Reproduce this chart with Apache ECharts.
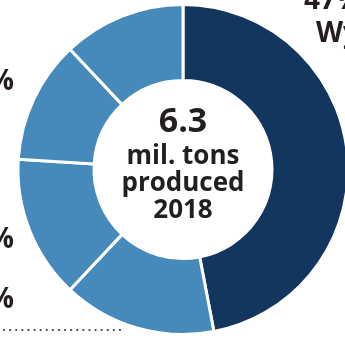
<!DOCTYPE html>
<html>
<head>
<meta charset="utf-8">
<script src="https://cdn.jsdelivr.net/npm/echarts@6/dist/echarts.min.js"></script>
<style>
  html, body { margin: 0; padding: 0; background: #fff; }
  #chart { width: 345px; height: 338px; }
</style>
</head>
<body>
<div id="chart"></div>
<script>
// Share of coal production, 2018 (percent), clockwise from 12 o'clock
const shares = [47, 15, 14, 12, 12];
const sliceColors = ['#13365f', '#4689bb', '#4689bb', '#4689bb', '#4689bb'];
const leadName = 'Wyoming';
const totalProduced = '6.3';
const centerLines = ['mil. tons', 'produced', '2018'];

const chart = echarts.init(document.getElementById('chart'), null, { renderer: 'canvas' });

const cx = 183, cy = 169.5;
const ink = '#231f20';
const font = '"Open Sans", "Liberation Sans", sans-serif';

chart.setOption({
  animation: false,
  series: [{
    type: 'pie',
    center: [cx, cy],
    radius: [89, 165],
    startAngle: 90,
    clockwise: true,
    silent: true,
    label: { show: false },
    labelLine: { show: false },
    itemStyle: { borderColor: '#ffffff', borderWidth: 3 },
    data: shares.map((v, i) => ({ value: v, itemStyle: { color: sliceColors[i] } }))
  }],
  graphic: [
    // centre caption
    { type: 'text', x: cx, y: 122, style: { text: totalProduced, fill: ink, font: `bold 34px ${font}`, align: 'center', verticalAlign: 'middle' } },
    { type: 'text', x: cx, y: 143, style: { text: centerLines.join('\n'), fill: ink, font: `bold 26px ${font}`, lineHeight: 27, align: 'center', verticalAlign: 'top' } },
    // lead slice label (top right)
    { type: 'text', x: 304, y: 15, style: { text: shares[0] + '%', fill: ink, font: `bold 28px ${font}`, align: 'left', verticalAlign: 'bottom' } },
    { type: 'text', x: 316, y: 34, style: { text: leadName, fill: ink, font: `bold 28px ${font}`, align: 'left', verticalAlign: 'middle' } },
    // side labels for the smaller slices
    { type: 'text', x: 14, y: 82, style: { text: shares[3] + '%', fill: ink, font: `bold 28px ${font}`, align: 'right', verticalAlign: 'middle' } },
    { type: 'text', x: 14, y: 240, style: { text: shares[2] + '%', fill: ink, font: `bold 28px ${font}`, align: 'right', verticalAlign: 'middle' } },
    { type: 'text', x: 14, y: 300, style: { text: shares[1] + '%', fill: ink, font: `bold 28px ${font}`, align: 'right', verticalAlign: 'middle' } },
    // dotted rule along the bottom
    { type: 'line', shape: { x1: 4, y1: 330, x2: 125, y2: 330 }, style: { stroke: '#444', lineWidth: 2.2, lineDash: [0.1, 6], lineCap: 'round' } }
  ]
});
</script>
</body>
</html>
